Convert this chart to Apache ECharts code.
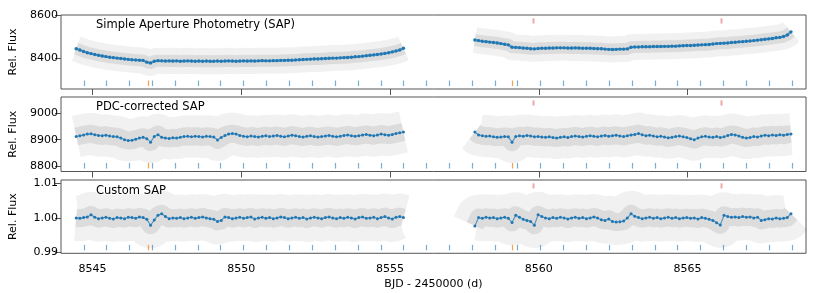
<!DOCTYPE html>
<html><head><meta charset="utf-8">
<script src="https://cdn.jsdelivr.net/npm/echarts@6/dist/echarts.min.js"></script>
<style>html,body{margin:0;padding:0;background:#fff}#c{width:831px;height:293px}</style>
</head><body><div id="c"></div>
<script>
// ---- data ----
const binWidth = 0.125;           // days per binned point
const seg1Start = 8544.45;        // first orbit start (BJD-2450000)
const seg2Start = 8557.85;        // second orbit start

const sapSeg1 = [8443,8437,8430,8424,8420,8416,8412,8409,8406,8403,8401,8399,8397,8395,8393,8391,8390,8389,8388,8380,8376,8384,8387,8386,8385,
 8386,8385,8386,8384,8385,8386,8385,8384,8385,8384,8385,8384,8384,8385,8384,8385,8386,8385,8384,8385,8386,8385,8386,8385,8386,8387,8386,8386,8387,8387,8388,8388,
 8389,8389,8390,8391,8392,8393,8394,8395,8395,8396,8397,8398,8399,8399,8400,8401,8402,8403,8405,8406,8408,8410,8412,8414,8416,8418,8421,8424,8428,8432,8437,8445];
const sapSeg2 = [8484,8481,8478,8476,8474,8472,8470,8467,8464,8461,8450,8449,8448,8446,8445,8443,8442,8444,8445,8445,8446,8446,8447,8447,8447,8446,8446,8447,8446,8445,
 8445,8445,8444,8443,8443,8441,8440,8439,8440,8441,8441,8442,8450,8451,8451,8452,8452,8452,8453,8453,8453,8454,8454,8455,8455,8456,8457,8458,8458,8459,
 8460,8461,8462,8463,8465,8467,8468,8469,8470,8472,8473,8475,8476,8478,8479,8481,8483,8485,8487,8489,8491,8494,8496,8500,8507,8522];

const pdcSeg1 = [8912,8915,8918,8921,8922,8919,8916,8915,8917,8914,8912,8911,8906,8900,8897,8898,8902,8906,8909,8904,8891,8912,8919,8909,8906,8905,8907,8906,8909,
 8912,8913,8911,8913,8912,8910,8913,8912,8910,8899,8908,8916,8921,8923,8921,8916,8913,8911,8914,8912,8910,8913,8915,8912,8914,8916,8913,8911,8914,8917,8915,
 8912,8910,8913,8915,8912,8910,8912,8914,8916,8913,8911,8913,8916,8918,8915,8913,8915,8918,8920,8917,8915,8918,8921,8919,8917,8920,8923,8926,8929];
const pdcSeg2 = [8929,8918,8915,8913,8914,8911,8909,8910,8912,8911,8891,8912,8915,8913,8916,8914,8911,8912,8910,8909,8911,8908,8906,8909,8911,8908,8912,8914,8912,8910,
 8913,8915,8913,8911,8914,8916,8913,8915,8917,8914,8912,8915,8918,8920,8923,8919,8915,8917,8914,8911,8913,8910,8907,8909,8912,8914,8911,8908,8904,8900,
 8906,8911,8913,8910,8909,8912,8908,8911,8916,8920,8918,8914,8909,8906,8908,8912,8910,8914,8917,8915,8918,8916,8919,8917,8920,8921];

const customSeg1 = [1.0000,0.9999,1.0001,1.0003,1.0009,1.0002,0.9998,1.0000,1.0002,0.9999,0.9997,1.0001,1.0000,0.9998,1.0002,1.0001,0.9999,1.0003,1.0001,0.9996,
 0.9979,0.9994,1.0008,1.0012,1.0004,0.9998,1.0000,0.9999,1.0001,0.9998,1.0000,1.0002,0.9999,1.0001,1.0003,1.0000,0.9998,0.9996,0.9990,0.9993,
 1.0003,1.0001,0.9998,1.0000,1.0002,0.9999,1.0001,1.0003,0.9997,1.0000,1.0002,0.9999,1.0001,0.9998,1.0000,1.0003,1.0001,0.9998,1.0000,1.0002,
 0.9999,1.0001,0.9997,1.0000,1.0002,1.0000,0.9998,1.0001,1.0003,1.0000,0.9998,1.0001,0.9999,1.0002,1.0000,0.9997,1.0001,1.0003,0.9999,1.0000,
 1.0002,0.9998,1.0001,1.0004,1.0000,0.9997,1.0002,1.0004,1.0001];
const customSeg2 = [0.9977,1.0001,0.9999,1.0002,1.0000,1.0001,0.9998,1.0000,1.0002,0.9999,0.9987,1.0008,1.0002,0.9996,0.9993,0.9990,0.9979,1.0009,1.0004,1.0000,
 0.9998,1.0001,0.9999,1.0002,1.0000,0.9997,1.0000,1.0002,0.9999,1.0001,0.9998,1.0000,1.0003,1.0000,0.9995,0.9993,0.9997,0.9990,0.9988,0.9989,
 0.9991,1.0000,1.0012,1.0005,1.0001,0.9998,1.0000,1.0002,0.9999,1.0001,0.9998,1.0000,1.0002,0.9999,1.0001,0.9998,1.0000,1.0001,0.9999,1.0000,
 0.9997,1.0001,0.9999,0.9996,0.9993,0.9986,0.9980,1.0008,1.0004,1.0002,1.0003,1.0001,1.0004,1.0002,1.0003,1.0000,1.0002,0.9993,0.9995,0.9998,
 0.9997,1.0000,0.9998,0.9999,1.0001,1.0012];

const transitsBlue = [8544.70,8545.46,8546.23,8547.00,8547.76,8548.53,8549.30,8550.06,8550.83,8551.60,8552.37,8553.14,8553.91,8554.68,8555.45,8556.21,
 8556.98,8557.75,8558.52,8559.28,8560.04,8560.81,8561.58,8562.35,8563.12,8563.90,8564.66,8565.42,8566.19,8566.96,8567.72,8568.50];
const transitsOrange = [8546.87, 8559.10];
const transitsRed = [8559.79, 8566.12];

const panelTitles = ['Simple Aperture Photometry (SAP)', 'PDC-corrected SAP', 'Custom SAP'];
const xTicks = [8545, 8550, 8555, 8560, 8565];
const yTickSets = [[8400, 8600], [8800, 8900, 9000], [0.99, 1.00, 1.01]];
const yLabel = 'Rel. Flux';
const xLabel = 'BJD - 2450000 (d)';

// ---- layout / style ----
const FONT = 'DejaVu Sans';
const xRange = [8543.94, 8568.98];
const yRanges = [[8254, 8601], [8781, 9060], [0.9898, 1.01095]];
const gridTops = [15, 97, 180];
const gridHeights = [74, 74.5, 73.3];
const bandOuter = [26, 42, 46];
const bandCore = [12, 18, 18];
const dotSize = [3.4, 3.0, 3.0];
const connectWidth = [2.2, 1.2, 1.2];

const panels = [[sapSeg1, sapSeg2], [pdcSeg1, pdcSeg2], [customSeg1, customSeg2]];
const segStarts = [seg1Start, seg2Start];

function toPoints(start, vals) {
  return vals.map((v, i) => [start + i * binWidth, v]);
}

function tickSeries(p, times, color, f1, f2, w) {
  return {
    type: 'custom', xAxisIndex: p, yAxisIndex: p, silent: true, z: 4, clip: false,
    data: times.map(t => [t, yRanges[p][0]]),
    encode: { x: 0, y: 1 },
    renderItem: (params, api) => {
      const cs = params.coordSys;
      const pt = api.coord([api.value(0), api.value(1)]);
      const x = Math.round(pt[0]) + 0.5;
      return {
        type: 'line',
        shape: { x1: x, y1: cs.y + cs.height * f1, x2: x, y2: cs.y + cs.height * f2 },
        style: { stroke: color, lineWidth: w }
      };
    }
  };
}

const grids = [], xAxes = [], yAxes = [], series = [], titles = [];
const titleTops = [19, 101, 185];

for (let p = 0; p < 3; p++) {
  grids.push({ left: 58, right: 25, top: gridTops[p], height: gridHeights[p], show: true,
    borderColor: '#555', borderWidth: 1, backgroundColor: 'transparent' });
  xAxes.push({
    gridIndex: p, type: 'value', min: xRange[0], max: xRange[1],
    axisLine: { show: false }, splitLine: { show: false },
    axisTick: { show: p < 2, length: 6, customValues: xTicks, lineStyle: { color: '#555' } },
    axisLabel: { show: p === 2, customValues: xTicks, fontSize: 11, color: '#000', fontFamily: FONT, margin: 10,
      formatter: v => String(Math.round(v)) },
    name: p === 2 ? xLabel : '', nameLocation: 'middle', nameGap: 25,
    nameTextStyle: { fontSize: 11, color: '#000', fontFamily: FONT }
  });
  yAxes.push({
    gridIndex: p, type: 'value', min: yRanges[p][0], max: yRanges[p][1],
    axisLine: { show: false }, splitLine: { show: false },
    axisTick: { show: true, length: 6, customValues: yTickSets[p], lineStyle: { color: '#555' } },
    axisLabel: { customValues: yTickSets[p], fontSize: 11, color: '#000', fontFamily: FONT, margin: 3,
      formatter: p === 2 ? (v => v.toFixed(2)) : (v => String(Math.round(v))) },
    name: yLabel, nameLocation: 'middle', nameRotate: 90, nameGap: 42,
    nameTextStyle: { fontSize: 11, color: '#000', fontFamily: FONT }
  });
  titles.push({ text: panelTitles[p], left: 96, top: titleTops[p], padding: 0,
    textStyle: { fontSize: 11.5, fontWeight: 'normal', color: '#000', fontFamily: FONT } });

  for (let s = 0; s < 2; s++) {
    const data = toPoints(segStarts[s], panels[p][s]);
    series.push({ type: 'line', xAxisIndex: p, yAxisIndex: p, data, showSymbol: false, silent: true, z: 1,
      lineStyle: { width: bandOuter[p], color: 'rgba(0,0,0,0.055)', cap: 'butt', join: 'round' } });
    series.push({ type: 'line', xAxisIndex: p, yAxisIndex: p, data, showSymbol: false, silent: true, z: 1,
      lineStyle: { width: bandCore[p], color: 'rgba(0,0,0,0.085)', cap: 'butt', join: 'round' } });
    series.push({ type: 'line', xAxisIndex: p, yAxisIndex: p, data, showSymbol: false, silent: true, z: 2,
      lineStyle: { width: connectWidth[p], color: 'rgba(31,119,180,0.7)' } });
    series.push({ type: 'scatter', xAxisIndex: p, yAxisIndex: p, data, symbol: 'circle', symbolSize: dotSize[p],
      silent: true, z: 3, itemStyle: { color: '#1f77b4', opacity: 1 } });
  }
  series.push(tickSeries(p, transitsBlue, 'rgba(31,119,180,0.6)', 0.885, 0.96, 1.2));
  series.push(tickSeries(p, transitsOrange, 'rgba(255,127,14,0.75)', 0.885, 0.96, 1.2));
  series.push(tickSeries(p, transitsRed, 'rgba(214,39,40,0.4)', 0.045, 0.115, 2));
}

const chart = echarts.init(document.getElementById('c'), null, { renderer: 'canvas' });
chart.setOption({
  animation: false,
  backgroundColor: '#fff',
  title: titles,
  grid: grids,
  xAxis: xAxes,
  yAxis: yAxes,
  series
});
</script></body></html>
